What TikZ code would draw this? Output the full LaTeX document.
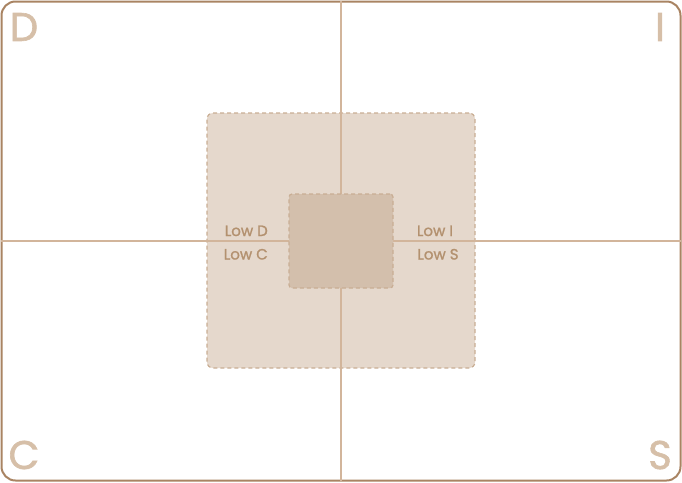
\documentclass[tikz,border=0pt]{standalone}
\usepackage{fontspec}
\setmainfont{Poppins}
\newfontfamily\medfont{Poppins}[FakeBold=1.2]
\newfontfamily\bigfont{Poppins}[FakeBold=1.6]
\definecolor{frame}{HTML}{A98463}
\definecolor{axis}{HTML}{D2B59B}
\definecolor{bigfill}{HTML}{E5D8CC}
\definecolor{smallfill}{HTML}{D3BFAC}
\definecolor{dashc}{HTML}{C9AE94}
\definecolor{lbl}{HTML}{B3916F}
\definecolor{corner}{HTML}{D6BFA8}
\tikzset{
  axisline/.style={draw=axis, line width=1.2pt},
  zonebox/.style={draw=dashc, dash pattern=on 4pt off 3pt, line width=1.2pt, rounded corners=6pt},
  lowlbl/.style={text=lbl, font=\medfont\fontsize{15}{17}\selectfont, inner sep=0pt},
  cornerlbl/.style={text=corner, font=\bigfont\fontsize{40}{44}\selectfont, inner sep=0pt}
}
\begin{document}
\begin{tikzpicture}[x=1pt,y=-1pt]
\useasboundingbox (0,0) rectangle (682,482);
\node[draw=frame, line width=2pt, rounded corners=14pt, minimum width=679pt, minimum height=479pt, inner sep=0pt] (frm) at (341,241) {};
\node[zonebox, fill=bigfill, minimum width=268pt, minimum height=255pt, inner sep=0pt] (big) at (341,240.5) {};
\coordinate (top) at (341,1);
\coordinate (bot) at (341,481);
\coordinate (lft) at (1,241);
\coordinate (rgt) at (681,241);
\draw[axisline] (top) -- (bot);
\draw[axisline] (lft) -- (rgt);
\node[zonebox, rounded corners=3pt, fill=smallfill, minimum width=104pt, minimum height=94pt, inner sep=0pt] (small) at (341,241) {};
\node[lowlbl, anchor=base east] (lowd) at (268,236) {Low D};
\node[lowlbl, anchor=base east] (lowc) at (268,259.5) {Low C};
\node[lowlbl, anchor=base] (lowi) at (435,236) {Low I};
\node[lowlbl, anchor=base] (lows) at (438,259.5) {Low S};
\node[cornerlbl] (d) at (24,27) {D};
\node[cornerlbl] (i) at (660,27) {I};
\node[cornerlbl] (c) at (24,455) {C};
\node[cornerlbl] (s) at (660,455) {S};
\end{tikzpicture}
\end{document}
